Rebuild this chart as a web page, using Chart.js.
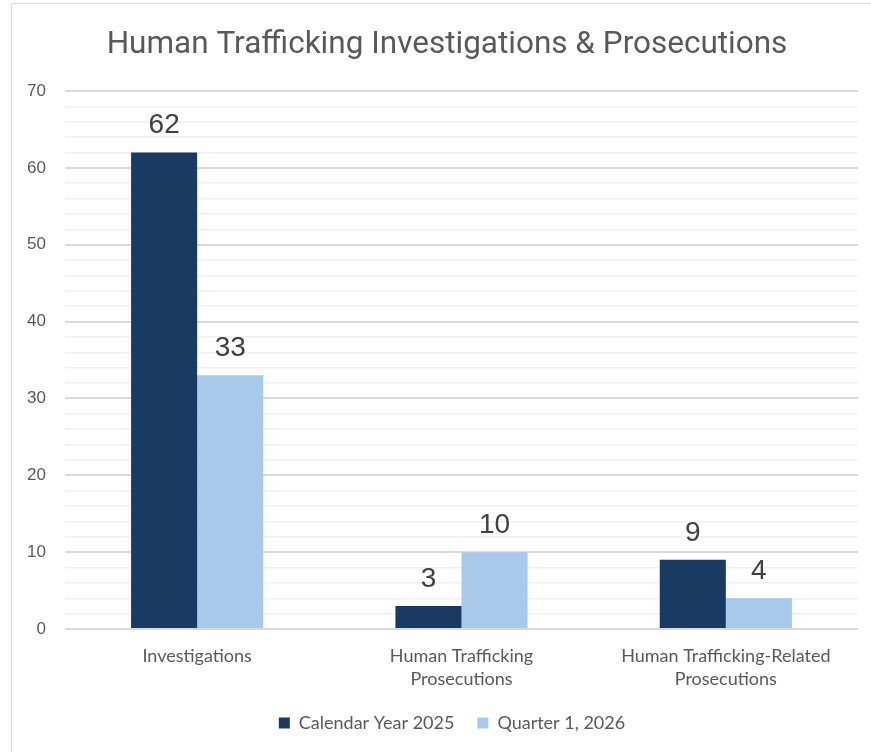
<!DOCTYPE html>
<html>
<head>
<meta charset="utf-8">
<script src="https://cdn.jsdelivr.net/npm/chart.js@4.4.1/dist/chart.umd.min.js"></script>
<style>
  html, body { margin: 0; padding: 0; background: #ffffff; }
  #wrap { position: relative; width: 871px; height: 752px; overflow: hidden; }
  #frame { position: absolute; left: 11px; top: 3px; width: 900px; height: 800px; border: 1.5px solid #d9d9d9; box-sizing: border-box; }
  canvas { position: absolute; left: 0; top: 0; }
</style>
</head>
<body>
<div id="wrap">
  <div id="frame"></div>
  <canvas id="c" width="871" height="752"></canvas>
</div>
<script>
const categories = [
  "Investigations",
  ["Human Trafficking", "Prosecutions"],
  ["Human Trafficking-Related", "Prosecutions"]
];
const seriesNames = ["Calendar Year 2025", "Quarter 1, 2026"];
const calendarYear2025 = [62, 3, 9];
const quarter1_2026 = [33, 10, 4];
const yTickLabels = [0, 10, 20, 30, 40, 50, 60, 70];
const chartTitle = 'Human Trafficking Investigations & Prosecutions';

const titlePlugin = {
  id: 'customTitle',
  afterDraw(chart) {
    const ctx = chart.ctx;
    ctx.save();
    ctx.font = '31.5px Roboto, "Open Sans", sans-serif';
    ctx.fillStyle = '#595959';
    ctx.textAlign = 'center';
    ctx.textBaseline = 'alphabetic';
    ctx.fillText(chartTitle, 447, 53);
    ctx.restore();
  }
};

const legendShift = {
  id: 'legendShift',
  afterLayout(chart) {
    const lg = chart.legend;
    if (lg) { lg.left += 23; lg.right += 23; }
  }
};

const dataLabels = {
  id: 'dataLabels',
  afterDatasetsDraw(chart) {
    const ctx = chart.ctx;
    ctx.save();
    ctx.font = '28px "Liberation Sans", Arial, sans-serif';
    ctx.fillStyle = '#404040';
    ctx.textAlign = 'center';
    ctx.textBaseline = 'alphabetic';
    chart.data.datasets.forEach((ds, i) => {
      const meta = chart.getDatasetMeta(i);
      meta.data.forEach((bar, j) => {
        ctx.fillText(String(ds.data[j]), bar.x, bar.y - 19);
      });
    });
    ctx.restore();
  }
};

new Chart(document.getElementById('c'), {
  type: 'bar',
  data: {
    labels: categories,
    datasets: [
      { label: seriesNames[0], data: calendarYear2025, backgroundColor: '#193b62' },
      { label: seriesNames[1], data: quarter1_2026, backgroundColor: '#a7caeb' }
    ]
  },
  options: {
    responsive: false,
    animation: false,
    layout: { padding: { left: 0, right: 13, top: 91, bottom: 10 } },
    datasets: { bar: { categoryPercentage: 0.5, barPercentage: 1.0 } },
    plugins: {
      title: { display: false },
      legend: {
        position: 'bottom',
        labels: {
          color: '#595959',
          font: { family: 'Lato, "Open Sans", sans-serif', size: 18 },
          boxWidth: 11,
          boxHeight: 11,
          padding: 23
        }
      },
      tooltip: { enabled: false }
    },
    scales: {
      x: {
        afterFit(scale) { scale.height = 62; },
        grid: { display: false, drawTicks: false },
        border: { display: false },
        ticks: {
          color: '#595959',
          font: { family: 'Lato, "Open Sans", sans-serif', size: 18, lineHeight: '23px' },
          padding: 16,
          maxRotation: 0
        }
      },
      y: {
        min: 0,
        max: 70,
        afterFit(scale) { scale.width = 65; },
        border: { display: false },
        grid: {
          drawTicks: false,
          color(ctx) { return yTickLabels.includes(ctx.tick.value) ? '#d9d9d9' : '#f0f0f0'; },
          lineWidth(ctx) { return yTickLabels.includes(ctx.tick.value) ? 2 : 1.5; }
        },
        ticks: {
          stepSize: 2,
          autoSkip: false,
          padding: 19,
          color: '#595959',
          font: { family: '"Liberation Sans", Arial, sans-serif', size: 17 },
          callback(v) { return yTickLabels.includes(v) ? String(v) : ''; }
        }
      }
    }
  },
  plugins: [dataLabels, titlePlugin, legendShift]
});
</script>
</body>
</html>
